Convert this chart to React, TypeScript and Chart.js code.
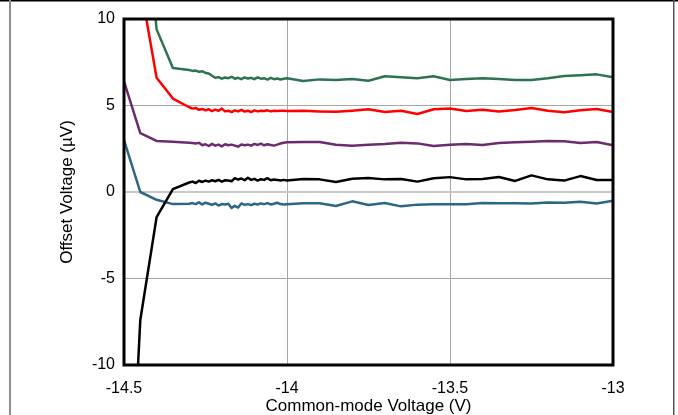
import { useEffect, useRef } from 'react';
import { Chart, registerables } from 'chart.js';

Chart.register(...registerables);

// Common-mode voltage (V)
const xValues = [
  -14.5, -14.45, -14.4, -14.35,
  -14.3, -14.29, -14.28, -14.27, -14.26, -14.25, -14.24, -14.23, -14.22, -14.21,
  -14.2, -14.19, -14.18, -14.17, -14.16, -14.15, -14.14, -14.13, -14.12, -14.11,
  -14.1, -14.09, -14.08, -14.07, -14.06, -14.05, -14.04, -14.03, -14.02, -14.01,
  -14.0, -13.95, -13.9, -13.85, -13.8, -13.75, -13.7, -13.65, -13.6, -13.55,
  -13.5, -13.45, -13.4, -13.35, -13.3, -13.25, -13.2, -13.15, -13.1, -13.05, -13.0,
];

// Offset voltage (µV) per curve
const greenValues = [
  40, 19, 9.4, 7.17,
  7.05, 7.0, 7.02, 6.95, 6.98, 6.88, 6.85, 6.72, 6.6, 6.64,
  6.55, 6.62, 6.58, 6.66, 6.55, 6.6, 6.52, 6.62, 6.56, 6.6,
  6.52, 6.63, 6.55, 6.58, 6.5, 6.6, 6.52, 6.56, 6.5, 6.55,
  6.57, 6.42, 6.51, 6.47, 6.53, 6.43, 6.69, 6.63, 6.57, 6.69,
  6.47, 6.53, 6.57, 6.53, 6.47, 6.47, 6.57, 6.71, 6.75, 6.8, 6.63,
];
const redValues = [
  25, 12, 6.6, 5.4,
  4.9, 4.82, 4.86, 4.75, 4.8, 4.72, 4.78, 4.68, 4.76, 4.7,
  4.82, 4.66, 4.7, 4.62, 4.72, 4.66, 4.75, 4.65, 4.7, 4.62,
  4.72, 4.66, 4.7, 4.68, 4.72, 4.66, 4.7, 4.68, 4.7, 4.69,
  4.68, 4.7, 4.66, 4.64, 4.7, 4.78, 4.62, 4.7, 4.51, 4.78,
  4.83, 4.68, 4.76, 4.66, 4.74, 4.86, 4.7, 4.61, 4.72, 4.8, 4.62,
];
const purpleValues = [
  6.4, 3.4, 2.95, 2.9,
  2.85, 2.83, 2.8, 2.84, 2.7, 2.76, 2.66, 2.78, 2.68, 2.74,
  2.64, 2.76, 2.7, 2.74, 2.68, 2.62, 2.75, 2.7, 2.74, 2.68,
  2.78, 2.72, 2.8, 2.7, 2.76, 2.72, 2.68, 2.74, 2.8, 2.85,
  2.87, 2.89, 2.89, 2.73, 2.68, 2.73, 2.77, 2.85, 2.81, 2.66,
  2.73, 2.77, 2.72, 2.83, 2.87, 2.91, 2.95, 2.93, 2.83, 2.89, 2.7,
];
const blackValues = [
  -26, -7.4, -1.45, 0.17,
  0.55, 0.6, 0.52, 0.65, 0.58, 0.66, 0.6, 0.68, 0.62, 0.7,
  0.6, 0.68, 0.66, 0.62, 0.8, 0.72, 0.78, 0.68, 0.82, 0.7,
  0.76, 0.66, 0.74, 0.7, 0.8, 0.68, 0.72, 0.7, 0.66, 0.7,
  0.66, 0.75, 0.73, 0.58, 0.77, 0.81, 0.73, 0.75, 0.6, 0.79,
  0.86, 0.73, 0.75, 0.87, 0.64, 0.96, 0.73, 0.66, 0.92, 0.69, 0.69,
];
const blueValues = [
  3.0, 0.0, -0.45, -0.7,
  -0.68, -0.64, -0.7, -0.6, -0.72, -0.62, -0.68, -0.74, -0.66, -0.78,
  -0.7, -0.72, -0.68, -0.92, -0.8, -0.9, -0.66, -0.74, -0.7, -0.76,
  -0.68, -0.72, -0.66, -0.7, -0.64, -0.72, -0.68, -0.62, -0.7, -0.72,
  -0.71, -0.65, -0.65, -0.81, -0.54, -0.75, -0.64, -0.83, -0.73, -0.71,
  -0.71, -0.71, -0.64, -0.65, -0.65, -0.67, -0.6, -0.62, -0.56, -0.67, -0.5,
];

const xTickStep = 0.5;
const yTickStep = 5;

const FONT = 'Arial, "Liberation Sans", sans-serif';

export default function App() {
  const ref = useRef<HTMLCanvasElement>(null);

  useEffect(() => {
    document.body.style.margin = '0';
    const canvas = ref.current;
    if (!canvas) return;

    const mk = (vals: number[]) => xValues.map((x, i) => ({ x, y: vals[i] }));

    const framePlugin = {
      id: 'frame',
      beforeDraw(chart: any) {
        const c = chart.ctx;
        c.save();
        c.fillStyle = '#ffffff';
        c.fillRect(0, 0, chart.width, chart.height);
        c.fillStyle = '#000000';
        c.fillRect(0, 0, chart.width, 1.5);
        c.fillStyle = '#8c8c8c';
        c.fillRect(9, 0, 2, chart.height);
        c.fillStyle = '#555555';
        c.fillRect(673, 0, 1.5, chart.height);
        c.restore();
      },
      afterDraw(chart: any) {
        const c = chart.ctx;
        const { left, top, right, bottom } = chart.chartArea;
        c.save();
        c.strokeStyle = '#000000';
        c.lineWidth = 3;
        c.strokeRect(left, top, right - left, bottom - top);
        c.restore();
      },
    };

    const ds = (vals: number[], color: string) => ({
      data: mk(vals),
      borderColor: color,
      backgroundColor: color,
      borderWidth: 2.5,
      pointRadius: 0,
      tension: 0,
      fill: false,
      borderJoinStyle: 'round' as const,
    });

    const gridColor = (ctx: any) => (ctx.tick && ctx.tick.value === 0 ? '#c8c8c8' : '#a6a6a6');
    const gridWidth = (ctx: any) => (ctx.tick && ctx.tick.value === 0 ? 2 : 1);
    const fmt = (v: any) => String(Math.round(Number(v) * 100) / 100);

    const chart = new Chart(canvas, {
      type: 'line',
      data: {
        datasets: [
          ds(blackValues, '#000000'),
          ds(blueValues, '#2c6685'),
          ds(purpleValues, '#6b2c6b'),
          ds(redValues, '#ff0000'),
          ds(greenValues, '#2d7352'),
        ],
      },
      options: {
        animation: false,
        responsive: false,
        maintainAspectRatio: false,
        layout: { padding: { top: 19, right: 65, left: 0, bottom: 0 } },
        plugins: { legend: { display: false }, tooltip: { enabled: false } },
        scales: {
          x: {
            type: 'linear',
            min: -14.5,
            max: -13,
            afterFit: (s: any) => { s.height = 50; },
            ticks: {
              stepSize: xTickStep,
              padding: 14,
              color: '#000000',
              font: { family: FONT, size: 16 },
              maxRotation: 0,
              callback: fmt,
            },
            grid: { color: gridColor, lineWidth: gridWidth, drawTicks: false },
            border: { display: false },
            title: {
              display: true,
              text: 'Common-mode Voltage (V)',
              color: '#000000',
              font: { family: FONT, size: 17 },
              padding: { top: 0, bottom: -2 },
            },
          },
          y: {
            type: 'linear',
            min: -10,
            max: 10,
            afterFit: (s: any) => { s.width = 124; },
            ticks: {
              stepSize: yTickStep,
              padding: 9,
              color: '#000000',
              font: { family: FONT, size: 16 },
              callback: fmt,
            },
            grid: { color: gridColor, lineWidth: gridWidth, drawTicks: false },
            border: { display: false },
            title: {
              display: true,
              text: 'Offset Voltage (µV)',
              color: '#000000',
              font: { family: FONT, size: 17 },
              padding: { top: 57, bottom: 0 },
            },
          },
        },
      },
      plugins: [framePlugin],
    });

    return () => chart.destroy();
  }, []);

  return (
    <div style={{ position: 'absolute', left: 0, top: 0, width: 678, height: 415 }}>
      <canvas ref={ref} width={678} height={415} style={{ display: 'block', width: 678, height: 415 }} />
    </div>
  );
}
